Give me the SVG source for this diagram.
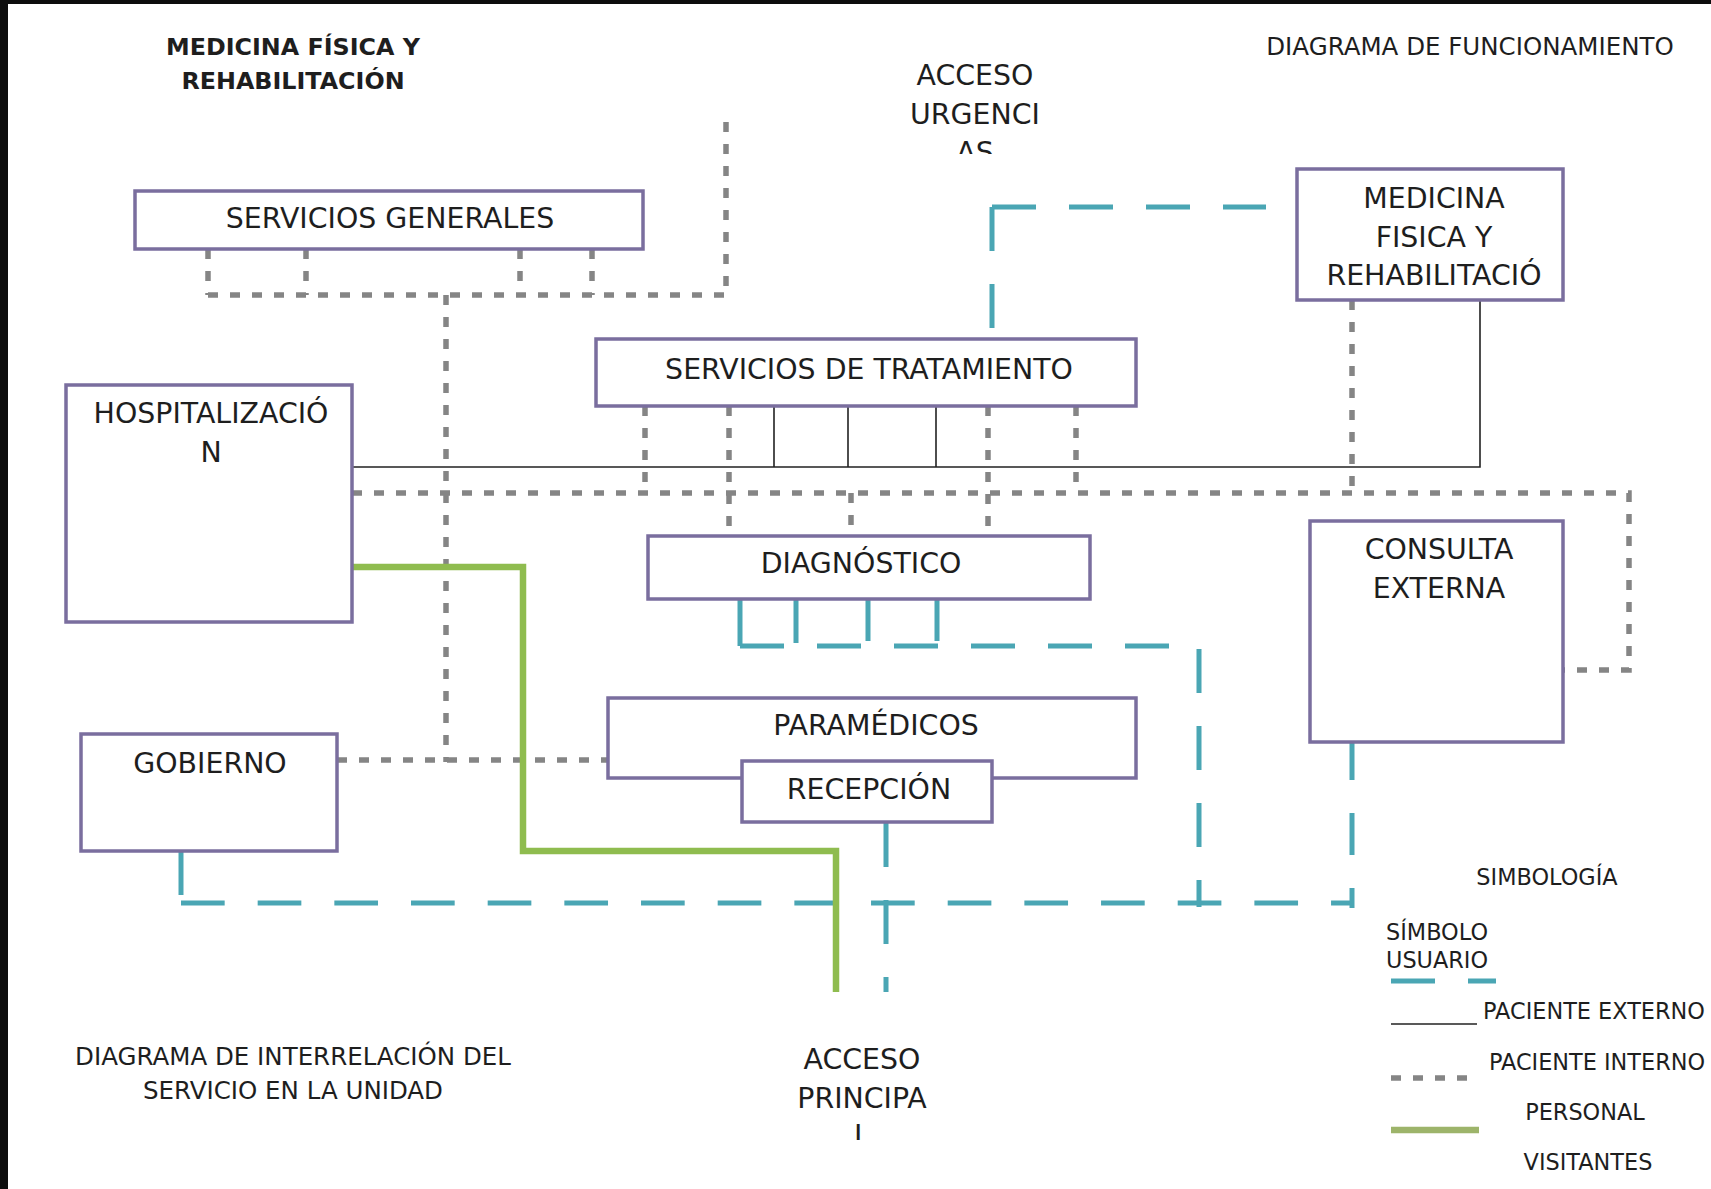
<svg xmlns="http://www.w3.org/2000/svg" width="1711" height="1189" viewBox="0 0 1711 1189">
<defs>
<style>
.box{fill:#ffffff;stroke:#7a6e9e;stroke-width:3.5}
.t{font-family:"DejaVu Sans","Liberation Sans",sans-serif;font-size:28.4px;fill:#1e1e1e;text-anchor:middle}
.ttl{font-size:24.5px}
.bold{font-weight:bold;font-size:23.8px}
.leg{font-size:22.4px}
.start{text-anchor:start}
.gray{stroke:#858585;stroke-width:5.5;stroke-dasharray:10 12;fill:none}
.blue{stroke:#4aa6b4;stroke-width:5;fill:none}
.bd{stroke-dasharray:44 33}
.green{stroke:#8fbc4f;stroke-width:6.5;fill:none}
.black{stroke:#222222;stroke-width:1.6;fill:none}
</style>
<clipPath id="clipTop"><rect x="880" y="0" width="190" height="154"/></clipPath>
<clipPath id="clipBot"><rect x="780" y="1000" width="170" height="140"/></clipPath>
</defs>
<rect x="0" y="0" width="1711" height="1189" fill="#ffffff"/>
<rect x="0" y="0" width="1711" height="4" fill="#0d0d0d"/>
<rect x="0" y="0" width="8" height="1189" fill="#0d0d0d"/>

<g id="connectors">
<g id="interno">
<path class="gray" d="M726,122 V295"/>
<path class="gray" d="M208,295 H726"/>
<path class="gray" d="M208,249 V295 M306,249 V295 M520,249 V295 M592,249 V295"/>
<path class="gray" d="M446,295 V762"/>
<path class="gray" d="M337,760 H608"/>
<path class="gray" d="M352,493 H1629 V670 H1563"/>
<path class="gray" d="M645,406 V493 M1076,406 V493"/>
<path class="gray" d="M729,406 V536 M988,406 V536"/>
<path class="gray" d="M851,493 V536"/>
<path class="gray" d="M1352,300 V493"/>
</g>
<g id="externo">
<path class="black" d="M352,467 H1480 V300"/>
<path class="black" d="M774,406 V467 M848,406 V467 M936,406 V467"/>
</g>
<g id="usuario">
<path class="blue bd" d="M992,207 H1266"/>
<path class="blue bd" d="M992,207 V328"/>
<path class="blue" d="M740,600 V646"/>
<path class="blue bd" d="M740,646 H1199 V907"/>
<path class="blue" d="M796,600 V643 M868,600 V641 M937,600 V641"/>
<path class="blue" d="M181,851 V895"/>
<path class="blue" d="M181,903 H1352" stroke-dasharray="43.67 33"/>
<path class="blue" d="M1352,741 V908" stroke-dasharray="39 33 42 33 20 100"/>
<path class="blue bd" d="M886,823 V992"/>
</g>
<g id="personal">
<path class="green" d="M352,567 H523 V851 H836 V992"/>
</g>
</g>

<g id="servicios-generales">
<rect class="box" x="135" y="191" width="508" height="58"/>
<text class="t" x="390" y="228">SERVICIOS GENERALES</text>
</g>
<g id="medicina-fisica">
<rect class="box" x="1297" y="169" width="266" height="131"/>
<text class="t" x="1434" y="208">MEDICINA</text>
<text class="t" x="1434" y="247">FISICA Y</text>
<text class="t" x="1434" y="285">REHABILITACIÓ</text>
</g>
<g id="servicios-tratamiento">
<rect class="box" x="596" y="339" width="540" height="67"/>
<text class="t" x="869" y="379">SERVICIOS DE TRATAMIENTO</text>
</g>
<g id="hospitalizacion">
<rect class="box" x="66" y="385" width="286" height="237"/>
<text class="t" x="211" y="423">HOSPITALIZACIÓ</text>
<text class="t" x="211" y="462">N</text>
</g>
<g id="diagnostico">
<rect class="box" x="648" y="536" width="442" height="63"/>
<text class="t" x="861" y="573">DIAGNÓSTICO</text>
</g>
<g id="consulta-externa">
<rect class="box" x="1310" y="521" width="253" height="221"/>
<text class="t" x="1439" y="559">CONSULTA</text>
<text class="t" x="1439" y="598">EXTERNA</text>
</g>
<g id="paramedicos">
<rect class="box" x="608" y="698" width="528" height="80"/>
<text class="t" x="876" y="735">PARAMÉDICOS</text>
</g>
<g id="recepcion">
<rect class="box" x="742" y="761" width="250" height="61"/>
<text class="t" x="869" y="799">RECEPCIÓN</text>
</g>
<g id="gobierno">
<rect class="box" x="81" y="734" width="256" height="117"/>
<text class="t" x="210" y="773">GOBIERNO</text>
</g>

<g id="acceso-urgencias" clip-path="url(#clipTop)">
<text class="t" x="975" y="85">ACCESO</text>
<text class="t" x="975" y="124">URGENCI</text>
<text class="t" x="975" y="162">AS</text>
</g>
<g id="acceso-principal" clip-path="url(#clipBot)">
<text class="t" x="862" y="1069">ACCESO</text>
<text class="t" x="862" y="1108">PRINCIPA</text>
<text class="t" x="862" y="1145">L</text>
</g>

<g id="titles">
<text class="t bold" x="293" y="55">MEDICINA FÍSICA Y</text>
<text class="t bold" x="293" y="89">REHABILITACIÓN</text>
<text class="t ttl" x="1470" y="55">DIAGRAMA DE FUNCIONAMIENTO</text>
<text class="t ttl" x="293" y="1065">DIAGRAMA DE INTERRELACIÓN DEL</text>
<text class="t ttl" x="293" y="1099">SERVICIO EN LA UNIDAD</text>
</g>

<g id="legend">
<text class="t leg" x="1547" y="885">SIMBOLOGÍA</text>
<text class="t leg start" x="1386" y="940">SÍMBOLO</text>
<text class="t leg start" x="1386" y="968">USUARIO</text>
<path class="blue bd" d="M1391,981 H1496"/>
<path class="black" d="M1391,1024 H1477"/>
<text class="t leg" x="1594" y="1019">PACIENTE EXTERNO</text>
<text class="t leg" x="1597" y="1070">PACIENTE INTERNO</text>
<path class="gray" d="M1391,1078 H1470"/>
<text class="t leg" x="1585" y="1120">PERSONAL</text>
<path d="M1391,1130 H1479" stroke="#9db46a" stroke-width="6.5" fill="none"/>
<text class="t leg" x="1588" y="1170">VISITANTES</text>
</g>
</svg>
